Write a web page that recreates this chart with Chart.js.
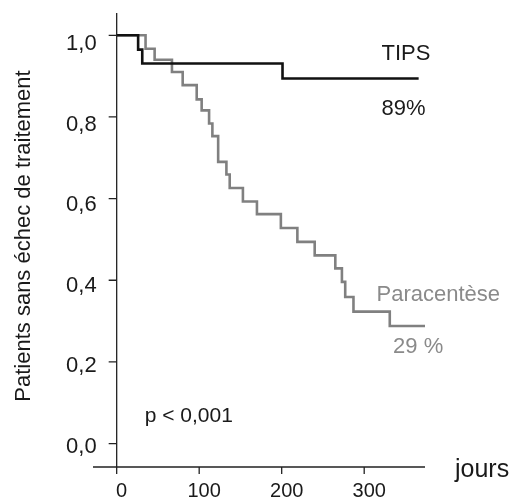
<!DOCTYPE html>
<html>
<head>
<meta charset="utf-8">
<script src="https://cdn.jsdelivr.net/npm/chart.js@4/dist/chart.umd.min.js"></script>
<style>
  html, body { margin: 0; padding: 0; background: #fff; }
  canvas { display: block; }
</style>
</head>
<body>
<canvas id="kmChart" width="516" height="499"></canvas>
<script>
// Kaplan-Meier curves (days, survival without treatment failure)
const tipsDays = [0, 26, 31, 201, 366];
const tipsSurv = [1.0, 0.965, 0.931, 0.894, 0.894];

const paraDays = [0, 35, 46, 67, 80, 97, 103, 112, 116, 123, 133, 137, 153, 170, 199, 219, 240, 265, 273, 277, 287, 331, 374];
const paraSurv = [1.0, 0.967, 0.940, 0.910, 0.878, 0.843, 0.816, 0.784, 0.753, 0.690, 0.659, 0.626, 0.593, 0.562, 0.528, 0.494, 0.461, 0.429, 0.396, 0.359, 0.323, 0.288, 0.288];

const xTicks = [0, 100, 200, 300];
const yTicks = [0, 0.2, 0.4, 0.6, 0.8, 1.0];

const FONT = "'Liberation Sans', Arial, sans-serif";

const toPoints = (xs, ys) => xs.map((x, i) => ({ x: x, y: ys[i] }));

// axes, ticks and texts drawn from the chart scales
const axesPlugin = {
  id: 'axesPlugin',
  afterDraw(chart) {
    const ctx = chart.ctx;
    const xs = chart.scales.x;
    const ys = chart.scales.y;
    const area = chart.chartArea;
    const x0 = xs.getPixelForValue(0);
    const yBase = area.bottom;

    ctx.save();
    ctx.strokeStyle = '#222';
    ctx.lineWidth = 1.3;
    ctx.beginPath();
    ctx.moveTo(x0, area.top);
    ctx.lineTo(x0, yBase);
    ctx.moveTo(area.left, yBase);
    ctx.lineTo(area.right, yBase);
    yTicks.forEach(v => {
      const py = ys.getPixelForValue(v);
      ctx.moveTo(x0 - 8, py);
      ctx.lineTo(x0, py);
    });
    xTicks.forEach(v => {
      const px = xs.getPixelForValue(v);
      ctx.moveTo(px, yBase);
      ctx.lineTo(px, yBase + 7);
    });
    ctx.stroke();

    ctx.fillStyle = '#1a1a1a';
    ctx.font = '22px ' + FONT;
    ctx.textAlign = 'right';
    ctx.textBaseline = 'alphabetic';
    yTicks.forEach(v => {
      const py = ys.getPixelForValue(v);
      ctx.fillText(v.toFixed(1).replace('.', ','), x0 - 20, py + 9 + 6 * v);
    });

    ctx.font = '20px ' + FONT;
    ctx.textAlign = 'center';
    xTicks.forEach(v => {
      ctx.fillText(String(v), xs.getPixelForValue(v) + 5, yBase + 30);
    });

    ctx.textAlign = 'left';
    ctx.font = '22px ' + FONT;
    ctx.fillText('TIPS', xs.getPixelForValue(321), ys.getPixelForValue(0.94));
    ctx.fillText('89%', xs.getPixelForValue(321), ys.getPixelForValue(0.804));
    ctx.font = '25px ' + FONT;
    ctx.fillText('jours', xs.getPixelForValue(410), yBase + 10);
    ctx.font = '21px ' + FONT;
    ctx.fillText('p < 0,001', xs.getPixelForValue(34), ys.getPixelForValue(0.053));

    ctx.fillStyle = '#8a8a8a';
    ctx.font = '22px ' + FONT;
    ctx.fillText('Paracentèse', xs.getPixelForValue(315), ys.getPixelForValue(0.348));
    ctx.fillText('29 %', xs.getPixelForValue(335), ys.getPixelForValue(0.222));

    ctx.fillStyle = '#1a1a1a';
    ctx.translate(30, 236);
    ctx.rotate(-Math.PI / 2);
    ctx.textAlign = 'center';
    ctx.fillText('Patients sans échec de traitement', 0, 0);
    ctx.restore();
  }
};

new Chart(document.getElementById('kmChart'), {
  type: 'line',
  data: {
    datasets: [
      {
        label: 'TIPS',
        data: toPoints(tipsDays, tipsSurv),
        borderColor: '#111',
        borderWidth: 2.6,
        stepped: true,
        pointRadius: 0
      },
      {
        label: 'Paracentèse',
        data: toPoints(paraDays, paraSurv),
        borderColor: '#808080',
        borderWidth: 2.6,
        stepped: true,
        pointRadius: 0
      }
    ]
  },
  options: {
    responsive: false,
    animation: false,
    layout: { padding: { left: 93, right: 91, top: 13, bottom: 32 } },
    scales: {
      x: { type: 'linear', min: -28.7, max: 373.7, display: false },
      y: { min: -0.0575, max: 1.0546, display: false }
    },
    plugins: {
      legend: { display: false },
      tooltip: { enabled: false }
    }
  },
  plugins: [axesPlugin]
});
</script>
</body>
</html>
